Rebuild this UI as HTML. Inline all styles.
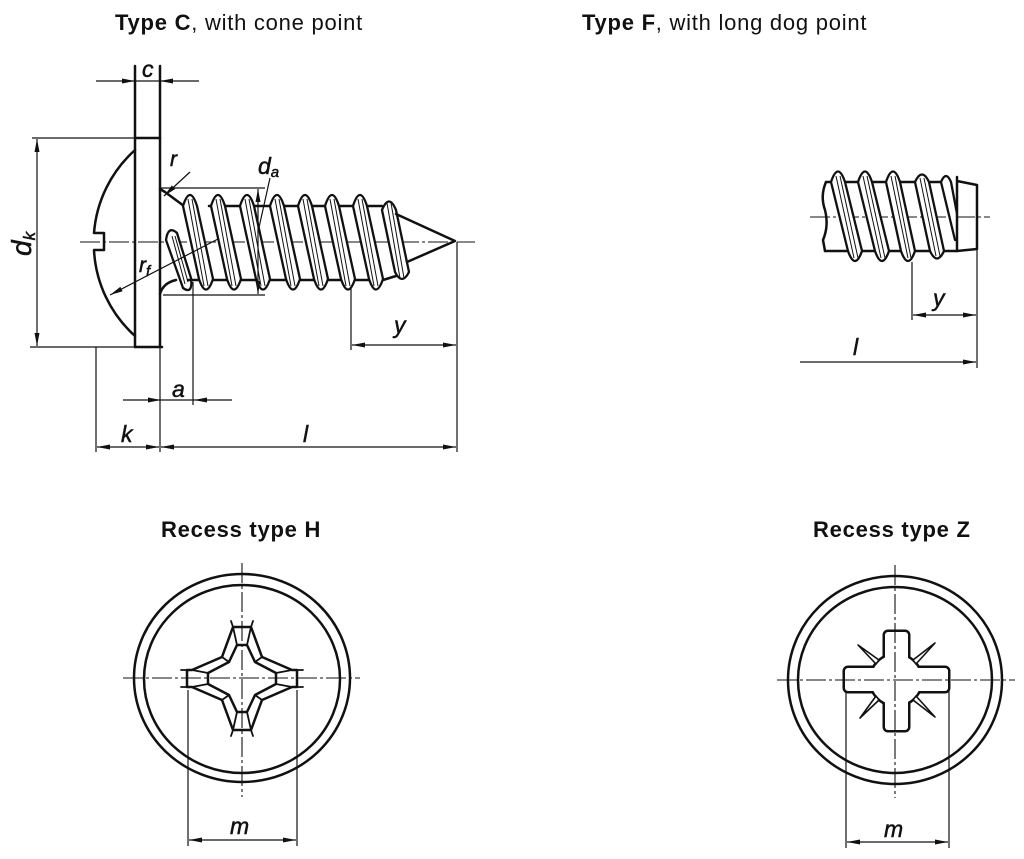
<!DOCTYPE html>
<html><head><meta charset="utf-8"><style>
html,body{margin:0;padding:0;background:#fff;}
svg{display:block;}
.t{font-family:"Liberation Sans",sans-serif;font-size:22px;fill:#111;letter-spacing:0.75px;}
.b{font-weight:bold;}
.lb{font-family:"Liberation Sans",sans-serif;font-style:italic;font-size:23px;fill:#111;stroke:#111;stroke-width:0.5;}
.o{fill:none;stroke:#111;stroke-width:2.5;stroke-linejoin:round;stroke-linecap:round;}
.d{fill:none;stroke:#111;stroke-width:1.2;}
.c{fill:none;stroke:#111;stroke-width:1.1;stroke-dasharray:20 3 3 3;}
.th{fill:#fff;stroke:#111;stroke-width:2.3;stroke-linejoin:round;}
.tl{fill:none;stroke:#111;stroke-width:1;}
</style></head><body>
<svg width="1024" height="859" viewBox="0 0 1024 859" xmlns="http://www.w3.org/2000/svg">
<defs>
<marker id="ah" viewBox="0 0 13 6" refX="13" refY="3" markerWidth="13" markerHeight="6" markerUnits="userSpaceOnUse" orient="auto-start-reverse">
<path d="M0,0.5 L13,3 L0,5.5 Z" fill="#111"/>
</marker>
<clipPath id="fclip"><rect x="820" y="160" width="137.5" height="120"/></clipPath>
</defs>

<!-- Titles -->
<text class="t" x="115" y="30"><tspan class="b">Type C</tspan>, with cone point</text>
<text class="t" x="582" y="30"><tspan class="b">Type F</tspan>, with long dog point</text>
<text class="t b" x="161" y="537">Recess type H</text>
<text class="t b" x="813" y="537">Recess type Z</text>

<!-- ===== Type C screw ===== -->
<line class="d" x1="96" y1="81" x2="135" y2="81" marker-end="url(#ah)"/>
<line class="d" x1="199" y1="81" x2="160" y2="81" marker-end="url(#ah)"/>
<line class="d" x1="135" y1="81" x2="160" y2="81"/>
<text class="lb" x="142" y="77">c</text>

<!-- head -->
<line class="o" x1="135" y1="66" x2="135" y2="347"/>
<line class="o" x1="160" y1="66" x2="160" y2="347"/>
<line class="d" x1="160" y1="347" x2="160" y2="452"/>
<line class="d" x1="32" y1="138" x2="160" y2="138"/>
<line class="d" x1="30" y1="347" x2="135" y2="347"/>
<line class="o" x1="135" y1="347" x2="162" y2="347"/>
<line class="o" x1="135" y1="138" x2="160" y2="138"/>
<path class="o" d="M135,150 A124,124 0 0 0 94,233 L104,233 L104,250 L94,250 A124,124 0 0 0 135,336"/>
<line class="d" x1="37" y1="139" x2="37" y2="346" marker-start="url(#ah)" marker-end="url(#ah)"/>
<text class="lb" transform="translate(31,256) rotate(-90)" style="font-size:28px">d<tspan style="font-size:17px" dy="4">k</tspan></text>

<line class="c" x1="80" y1="242" x2="475" y2="242"/>

<!-- shank fillets -->
<path class="o" d="M160,189 L165,192 L184,206"/>
<path class="o" d="M160,294 Q163,283 176,280"/>

<!-- partial thread near head -->
<path class="th" d="M166,240 Q168,225 177,233 L191,278 Q193,295 183,288 Z"/>
<line class="tl" x1="172" y1="236" x2="185" y2="284"/>
<line class="tl" x1="175" y1="236" x2="188" y2="282"/>

<!-- root lines -->
<path class="o" d="M184,206 L196,206 M209,206 L211,206 M225,206 L240,206 M254,206 L270,206 M284,206 L298,206 M312,206 L325,206 M339,206 L353,206 M367,206 L382,206"/>
<path class="o" d="M188,280 L199,280 M213,280 L227,280 M241,280 L256,280 M270,280 L286,280 M300,280 L314,280 M328,280 L341,280 M355,280 L369,280 M383,280 L396,276"/>

<!-- threads -->
<g>
<path class="th" d="M183,206 Q190,184 197,206 L213,279 Q206,300 199,279 Z"/>
<path class="th" d="M211,206 Q218,184 225,206 L241,279 Q234,300 227,279 Z"/>
<path class="th" d="M240,206 Q247,184 254,206 L270,279 Q263,300 256,279 Z"/>
<path class="th" d="M270,206 Q277,184 284,206 L300,279 Q293,300 286,279 Z"/>
<path class="th" d="M298,206 Q305,184 312,206 L328,279 Q321,300 314,279 Z"/>
<path class="th" d="M325,206 Q332,184 339,206 L355,279 Q348,300 341,279 Z"/>
<path class="th" d="M353,206 Q360,184 367,206 L383,279 Q376,300 369,279 Z"/>
<path class="th" d="M382,210 Q389,193 396,210 L409,272 Q402,286 395,272 Z"/>
</g>
<g class="tl">
<path d="M188,199 L204,286 M192,199 L208,286"/>
<path d="M216,199 L232,286 M220,199 L236,286"/>
<path d="M245,199 L261,286 M249,199 L265,286"/>
<path d="M275,199 L291,286 M279,199 L295,286"/>
<path d="M303,199 L319,286 M307,199 L323,286"/>
<path d="M330,199 L346,286 M334,199 L350,286"/>
<path d="M358,199 L374,286 M362,199 L378,286"/>
<path d="M387,203 L400,278 M391,203 L404,278"/>
</g>
<path class="o" d="M396,214 L455,241 L407,262"/>

<!-- da -->
<line class="d" x1="160" y1="188" x2="265" y2="188"/>
<line class="d" x1="163" y1="295" x2="265" y2="295"/>
<line class="d" x1="258" y1="189" x2="258" y2="294" marker-start="url(#ah)" marker-end="url(#ah)"/>
<line class="d" x1="270" y1="178" x2="258" y2="232"/>
<text class="lb" x="258" y="174">d<tspan style="font-size:15px" dy="3">a</tspan></text>

<!-- r -->
<line class="d" x1="190" y1="172" x2="164" y2="196" marker-end="url(#ah)"/>
<text class="lb" x="170" y="166" style="font-size:21px">r</text>

<!-- rf -->
<line class="d" x1="218" y1="239" x2="110" y2="295" marker-end="url(#ah)"/>
<text class="lb" x="139" y="272" style="font-size:21px">r<tspan style="font-size:15px" dy="4">f</tspan></text>

<!-- y dim -->
<line class="d" x1="351" y1="288" x2="351" y2="350"/>
<line class="d" x1="457" y1="242" x2="457" y2="452"/>
<line class="d" x1="352" y1="345" x2="456" y2="345" marker-start="url(#ah)" marker-end="url(#ah)"/>
<text class="lb" x="394" y="333">y</text>

<!-- a dim -->
<line class="d" x1="193" y1="282" x2="193" y2="405"/>
<line class="d" x1="123" y1="400" x2="161" y2="400" marker-end="url(#ah)"/>
<line class="d" x1="232" y1="400" x2="194" y2="400" marker-end="url(#ah)"/>
<line class="d" x1="161" y1="400" x2="194" y2="400"/>
<text class="lb" x="172" y="397">a</text>

<!-- k & l dims -->
<line class="d" x1="96" y1="347" x2="96" y2="452"/>
<line class="d" x1="97" y1="447" x2="159" y2="447" marker-start="url(#ah)" marker-end="url(#ah)"/>
<line class="d" x1="161" y1="447" x2="456" y2="447" marker-start="url(#ah)" marker-end="url(#ah)"/>
<text class="lb" x="121" y="442">k</text>
<text class="lb" x="303" y="442">l</text>

<!-- ===== Type F ===== -->
<line class="c" x1="810" y1="217" x2="990" y2="217"/>
<path class="o" d="M826,182 Q820,196 825,210 Q829,226 823,240 L825,251"/>
<path class="o" d="M826,182 L832,182 M844,182 L859,182 M871,182 L887,182 M899,182 L916,182 M928,182 L941,182"/>
<path class="o" d="M825,251 L849,251 M861,251 L876,251 M888,251 L902,251 M914,251 L931,251 M943,251 L957,251"/>
<g clip-path="url(#fclip)">
<path class="th" d="M831,182 Q838,161 845,182 L862,251 Q855,271 848,251 Z"/>
<path class="th" d="M858,182 Q865,161 872,182 L889,251 Q882,271 875,251 Z"/>
<path class="th" d="M886,182 Q893,161 900,182 L915,251 Q908,271 901,251 Z"/>
<path class="th" d="M915,182 Q922,167 929,182 L944,251 Q937,266 930,251 Z"/>
<path class="th" d="M941,182 Q946,170 951,182 L962,240 L955,240 Z"/>
<g class="tl">
<path d="M836,176 L854,258 M840,176 L858,258"/>
<path d="M863,176 L881,258 M867,176 L885,258"/>
<path d="M891,176 L908,258 M895,176 L911,258"/>
<path d="M920,178 L936,256 M924,178 L940,256"/>
</g>
</g>
<path class="o" d="M957,177 L957,251 M957,181 L977,185 L977,249 L957,251"/>
<line class="d" x1="977" y1="249" x2="977" y2="368"/>
<line class="d" x1="912" y1="262" x2="912" y2="320"/>
<line class="d" x1="913" y1="315" x2="976" y2="315" marker-start="url(#ah)" marker-end="url(#ah)"/>
<line class="d" x1="800" y1="362" x2="976" y2="362" marker-end="url(#ah)"/>
<text class="lb" x="933" y="306">y</text>
<text class="lb" x="853" y="355">l</text>

<!-- ===== Recess H ===== -->
<ellipse class="o" cx="242" cy="678" rx="108" ry="104"/>
<ellipse class="o" cx="242" cy="679" rx="98" ry="94"/>
<line class="c" x1="123" y1="678" x2="360" y2="678"/>
<line class="c" x1="242" y1="563" x2="242" y2="797"/>
<polygon class="o" points="233,627 251,627 262,657 292,670 297,670 297,687 292,687 262,700 251,730 233,730 222,700 192,687 187,687 187,670 192,670 222,657"/>
<polygon class="o" points="237,645 247,645 255,662 276,673 276,684 255,695 247,712 237,712 229,695 208,684 208,673 229,662"/>
<path class="o" style="stroke-width:1.8" d="M233,627 L237,645 M251,627 L247,645 M262,657 L255,662 M222,657 L229,662 M292,670 L276,673 M292,687 L276,684 M262,700 L255,695 M222,700 L229,695 M251,730 L247,712 M233,730 L237,712 M192,670 L208,673 M192,687 L208,684"/>
<path class="o" style="stroke-width:1.8" d="M231,621 L233,627 M253,621 L251,627 M181,670 L187,670 M181,687 L187,687 M297,670 L303,670 M297,687 L303,687 M231,736 L233,730 M253,736 L251,730"/>
<line class="d" x1="188" y1="690" x2="188" y2="846"/>
<line class="d" x1="297" y1="690" x2="297" y2="846"/>
<line class="d" x1="189" y1="840" x2="296" y2="840" marker-start="url(#ah)" marker-end="url(#ah)"/>
<text class="lb" x="230" y="834">m</text>

<!-- ===== Recess Z ===== -->
<ellipse class="o" cx="895" cy="680" rx="107" ry="104"/>
<ellipse class="o" cx="895" cy="680" rx="97" ry="93"/>
<g fill="none" stroke="#111" stroke-width="5">
<rect x="885" y="632" width="23" height="98" rx="3"/>
<rect x="845" y="668" width="103" height="23" rx="3"/>
<circle cx="896" cy="680" r="25"/>
</g>
<g fill="#fff">
<rect x="885" y="632" width="23" height="98" rx="3"/>
<rect x="845" y="668" width="103" height="23" rx="3"/>
<circle cx="896" cy="680" r="25"/>
</g>
<g fill="#fff" stroke="#111" stroke-width="1.6" stroke-linejoin="round">
<polygon points="858,645 879,660 876,664"/>
<polygon points="935,643 913,660 916,664"/>
<polygon points="860,718 876,696 879,700"/>
<polygon points="935,717 916,696 913,700"/>
</g>
<line class="c" x1="777" y1="680" x2="1015" y2="680"/>
<line class="c" x1="895" y1="565" x2="895" y2="798"/>
<line class="d" x1="846" y1="691" x2="846" y2="848"/>
<line class="d" x1="949" y1="691" x2="949" y2="848"/>
<line class="d" x1="847" y1="842" x2="948" y2="842" marker-start="url(#ah)" marker-end="url(#ah)"/>
<text class="lb" x="884" y="837">m</text>
</svg>
</body></html>
